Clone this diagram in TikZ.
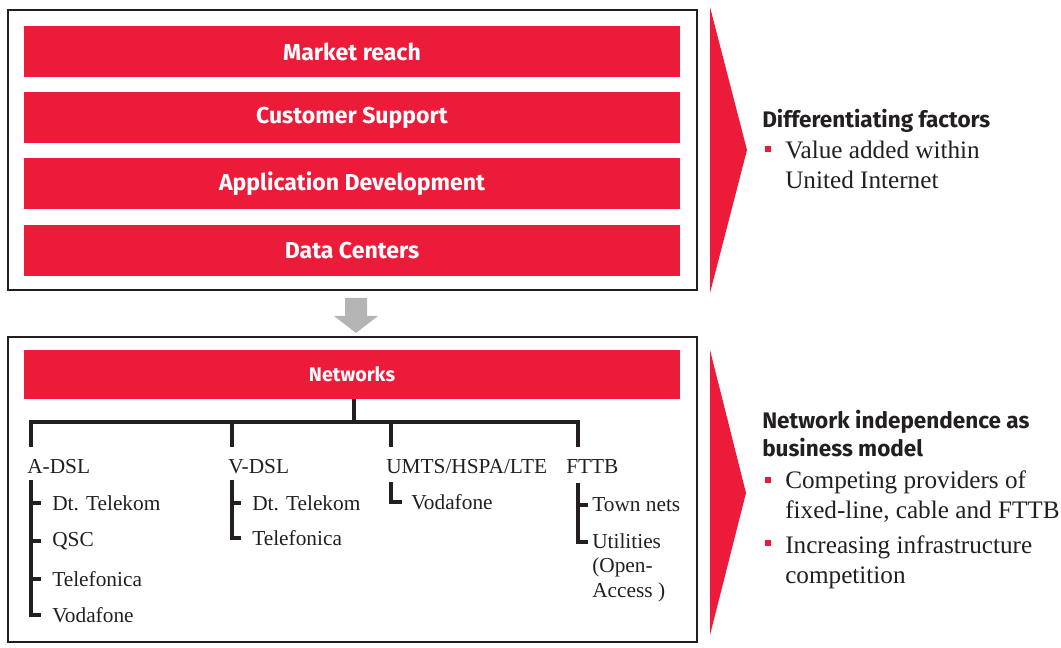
\documentclass[tikz,border=0pt]{standalone}
\usepackage{fontspec}
\setmainfont{Liberation Serif}
\newfontfamily\barfont{Fira Sans}
\usetikzlibrary{positioning}
\definecolor{uired}{RGB}{237,27,58}
\definecolor{uigray}{RGB}{180,180,180}
\definecolor{uidark}{RGB}{35,31,32}

\begin{document}
\begin{tikzpicture}[x=0.75pt,y=-0.75pt]
\tikzstyle{frame} = [draw=uidark, line width=1.8pt]
\tikzstyle{bar} = [rectangle, fill=uired, text=white, minimum width=492pt, minimum height=38.25pt, font=\barfont\bfseries\fontsize{17.3}{20}\selectfont]
\tikzstyle{netbar} = [bar, minimum height=36.75pt, font=\barfont\bfseries\fontsize{14.8}{17}\selectfont]
\tikzstyle{tree} = [draw=uidark, line width=2.3pt]
\tikzstyle{leaf} = [anchor=west, inner sep=0pt, text=uidark, font=\fontsize{16}{18.4}\selectfont]
\tikzstyle{chevron} = [fill=uired]
\tikzstyle{head} = [anchor=north west, inner sep=0pt, align=left, text=uidark, font=\barfont\bfseries\fontsize{16.9}{21}\selectfont]
\tikzstyle{point} = [anchor=north west, inner sep=0pt, align=left, text=uidark, font=\fontsize{18.9}{22.5}\selectfont]
\tikzstyle{bullet} = [rectangle, fill=uired, minimum size=4.5pt, inner sep=0pt]

\useasboundingbox (0,0) rectangle (1061,648);

%frames
\draw [frame] (8,10) rectangle (697,290);
\draw [frame] (8,337) rectangle (697,642);

%bars
\node (reach) [bar] at (352,51.5) {Market reach};
\node (support) [bar, below=11pt of reach] {Customer Support};
\node (appdev) [bar, below=11pt of support] {Application Development};
\node (data) [bar, below=11pt of appdev] {Data Centers};
\node (net) [netbar] at (352,374.5) {Networks};

%down arrow
\fill [uigray] (345,298) -- (367,298) -- (367,316) -- (378,316) -- (356,333) -- (334,316) -- (345,316) -- cycle;

%access types
\node (adsl) [leaf] at (27,467) {A-DSL};
\node (vdsl) [leaf] at (228,467) {V-DSL};
\node (umts) [leaf] at (386,467) {UMTS/HSPA/LTE};
\node (fttb) [leaf] at (566,467) {FTTB};

%providers
\node (dtA) [leaf] at (52,503) {Dt. Telekom};
\node (qscA) [leaf] at (52,541) {QSC};
\node (telA) [leaf] at (52,579) {Telefonica};
\node (vodA) [leaf] at (52,615) {Vodafone};
\node (dtV) [leaf] at (252,503) {Dt. Telekom};
\node (telV) [leaf] at (252,538) {Telefonica};
\node (vodU) [leaf] at (411,502) {Vodafone};
\node (townF) [leaf] at (592,505) {Town nets};
\node (utilF) [leaf, anchor=north west, align=left] at (592,533) {Utilities\\(Open-\\Access )};

%tree lines
\coordinate (hub) at (354,422);
\coordinate (adslTop) at (31,447);
\coordinate (vdslTop) at (232,447);
\coordinate (umtsTop) at (391,447);
\coordinate (fttbTop) at (578,447);
\coordinate (aStem) at (31,480);
\coordinate (vStem) at (232,480);
\coordinate (uStem) at (391,482);
\coordinate (fStem) at (578,483);

\draw [tree] (net.south -| hub) -- (hub);
\draw [tree] (adslTop) -- (adslTop |- hub) -- (fttbTop |- hub) -- (fttbTop);
\draw [tree] (vdslTop) -- (vdslTop |- hub);
\draw [tree] (umtsTop) -- (umtsTop |- hub);

\draw [tree] (aStem) |- ([xshift=-8.25pt]vodA.west);
\foreach \n in {dtA,qscA,telA}
  \draw [tree] (\n.west -| aStem) -- ([xshift=-8.25pt]\n.west);
\draw [tree] (vStem) |- ([xshift=-8.25pt]telV.west);
\draw [tree] (dtV.west -| vStem) -- ([xshift=-8.25pt]dtV.west);
\draw [tree] (uStem) |- ([xshift=-6.75pt]vodU.west);
\draw [tree] (fStem) |- ([shift={(-4,9)}]utilF.north west);
\draw [tree] (townF.west -| fStem) -- ([xshift=-3pt]townF.west);

%chevrons
\fill [chevron] (710,7) -- (747,150) -- (710,293) -- cycle;
\fill [chevron] (710,350) -- (746,493) -- (710,635) -- cycle;

%right text
\node (diff) [head] at (762,109) {Differentiating factors};
\node (b1) [bullet] at (767.5,149.5) {};
\node (value) [point] at (785,141) {Value added within\\United Internet};

\node (indep) [head] at (762,410) {Network independence as\\business model};
\node (b2) [bullet] at (767.5,480) {};
\node (compet) [point] at (785,470) {Competing providers of\\fixed-line, cable and FTTB};
\node (b3) [bullet] at (767.5,543) {};
\node (infra) [point] at (785,535) {Increasing infrastructure\\competition};
\end{tikzpicture}
\end{document}
